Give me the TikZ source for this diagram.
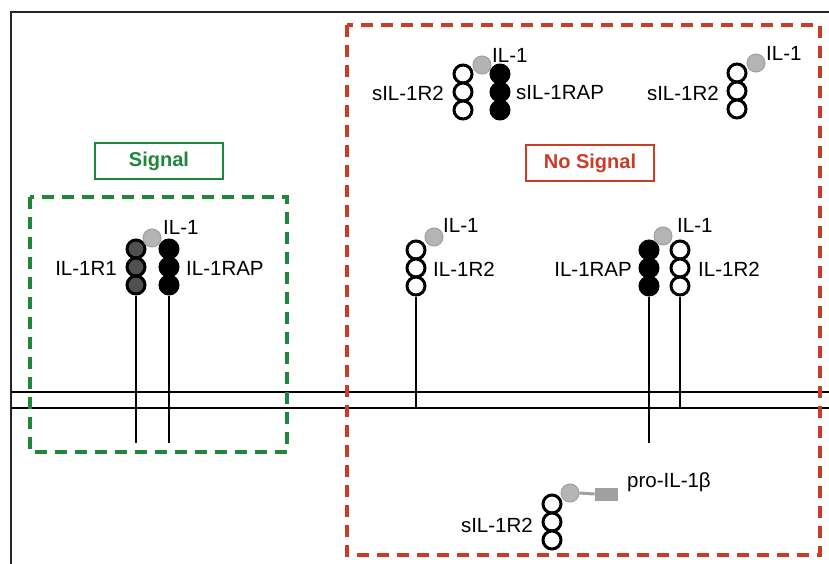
\documentclass[tikz,border=0pt]{standalone}
\usepackage{fontspec}
\setmainfont{Liberation Sans}
\definecolor{sgreen}{RGB}{30,135,60}
\definecolor{nred}{RGB}{200,60,40}
\definecolor{ilgrey}{RGB}{180,180,180}
\definecolor{ilgreyd}{RGB}{160,160,160}
\definecolor{dkgrey}{RGB}{80,80,80}
\begin{document}
\begin{tikzpicture}[x=1pt,y=-1pt,
  ring/.style={circle,draw=black,line width=3pt,minimum size=18pt,inner sep=0pt,fill=white},
  blackring/.style={ring,fill=black},
  darkring/.style={ring,fill=dkgrey},
  ligand/.style={circle,draw=ilgreyd,line width=1pt,fill=ilgrey,minimum size=18pt,inner sep=0pt},
  lbl/.style={font=\fontsize{20.5}{23}\selectfont,inner sep=0pt},
  stem/.style={line width=1.3pt},
  membrane/.style={line width=1.3pt},
  greenbox/.style={draw=sgreen,line width=3.2pt,dash pattern=on 12pt off 8pt},
  redbox/.style={draw=nred,line width=3.2pt,dash pattern=on 12pt off 8pt},
  tagbox/.style={line width=1.6pt,minimum width=128pt,minimum height=36pt,font=\bfseries\fontsize{20}{22}\selectfont}
]
\useasboundingbox (0,0) rectangle (829,564);
\fill[white] (0,0) rectangle (829,564);
% frame
\draw[line width=2pt,black!85] (11,564) -- (11,12) -- (829,12);
% membrane
\coordinate (m1l) at (11,392); \coordinate (m1r) at (829,392);
\coordinate (m2l) at (11,408); \coordinate (m2r) at (829,408);
\draw[membrane] (m1l) -- (m1r);
\draw[membrane] (m2l) -- (m2r);
% boxes
\draw[greenbox] (30,197) rectangle (287,452);
\draw[redbox] (347,25) rectangle (820,555);
\node[tagbox,draw=sgreen,text=sgreen] (sig) at (159,161) {Signal};
\node[tagbox,draw=nred,text=nred] (nosig) at (590,163) {No Signal};

% ---- Signal: IL-1R1 + IL-1RAP
\node[darkring] (a1) at (136,249) {};
\node[darkring] (a2) at (136,267) {};
\node[darkring] (a3) at (136,285) {};
\node[blackring] (b1) at (169,249) {};
\node[blackring] (b2) at (169,267) {};
\node[blackring] (b3) at (169,285) {};
\node[ligand] (l1) at (152,238) {};
\coordinate (ae) at (136,443); \coordinate (be) at (169,443);
\draw[stem] (a3.south) -- (ae);
\draw[stem] (b3.south) -- (be);
\node[lbl,anchor=west] (t1) at (163,227) {IL-1};
\node[lbl,anchor=east] (t2) at (117,268) {IL-1R1};
\node[lbl,anchor=west] (t3) at (186,268) {IL-1RAP};

% ---- top: sIL-1R2 + sIL-1RAP + IL-1
\node[ring] (c1) at (463,74) {};
\node[ring] (c2) at (463,92) {};
\node[ring] (c3) at (463,110) {};
\node[blackring] (d1) at (500,74) {};
\node[blackring] (d2) at (500,92) {};
\node[blackring] (d3) at (500,110) {};
\node[ligand] (l2) at (482,65) {};
\node[lbl,anchor=west] (t4) at (492,55) {IL-1};
\node[lbl,anchor=east] (t5) at (444,93) {sIL-1R2};
\node[lbl,anchor=west] (t6) at (516,93) {sIL-1RAP};

% ---- top right: sIL-1R2 + IL-1
\node[ring] (e1) at (737,73) {};
\node[ring] (e2) at (737,91) {};
\node[ring] (e3) at (737,109) {};
\node[ligand] (l3) at (756,63) {};
\node[lbl,anchor=west] (t7) at (766,53) {IL-1};
\node[lbl,anchor=east] (t8) at (719,93) {sIL-1R2};

% ---- IL-1R2 alone
\node[ring] (f1) at (416,250) {};
\node[ring] (f2) at (416,268) {};
\node[ring] (f3) at (416,286) {};
\node[ligand] (l4) at (434,237) {};
\coordinate (fe) at (416,408);
\draw[stem] (f3.south) -- (fe);
\node[lbl,anchor=west] (t9) at (443,225) {IL-1};
\node[lbl,anchor=west] (t10) at (433,269) {IL-1R2};

% ---- IL-1RAP + IL-1R2 + IL-1
\node[blackring] (g1) at (649,250) {};
\node[blackring] (g2) at (649,268) {};
\node[blackring] (g3) at (649,286) {};
\node[ring] (h1) at (680,250) {};
\node[ring] (h2) at (680,268) {};
\node[ring] (h3) at (680,286) {};
\node[ligand] (l5) at (663,236) {};
\coordinate (ge) at (649,443); \coordinate (he) at (680,408);
\draw[stem] (g3.south) -- (ge);
\draw[stem] (h3.south) -- (he);
\node[lbl,anchor=west] (t11) at (677,225) {IL-1};
\node[lbl,anchor=east] (t12) at (632,269) {IL-1RAP};
\node[lbl,anchor=west] (t13) at (698,269) {IL-1R2};

% ---- bottom: sIL-1R2 + pro-IL-1beta
\node[ring] (k1) at (552,504) {};
\node[ring] (k2) at (552,522) {};
\node[ring] (k3) at (552,540) {};
\node[ligand] (l6) at (570,493) {};
\node[draw=ilgreyd,line width=1pt,fill=ilgreyd,minimum width=22pt,minimum height=12pt,inner sep=0pt] (pro) at (606,494) {};
\draw[ilgreyd,line width=3pt] (l6.east) -- (pro.west);
\node[lbl,anchor=west] (t14) at (627,482) {pro-IL-1β};
\node[lbl,anchor=east] (t15) at (533,525) {sIL-1R2};
\end{tikzpicture}
\end{document}
